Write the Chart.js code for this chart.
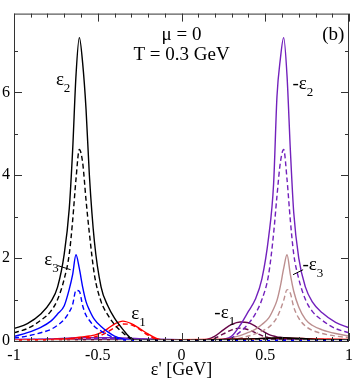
<!DOCTYPE html>
<html>
<head>
<meta charset="utf-8">
<script src="https://cdn.jsdelivr.net/npm/chart.js@4"></script>
<style>
  html, body { margin: 0; padding: 0; background: #fff; }
  #wrap { width: 358px; height: 379px; }
</style>
</head>
<body>
<div id="wrap"><canvas id="myChart" width="358" height="379"></canvas></div>
<script>
// energy grids (GeV): dense around the left peaks / the right peaks
var xLeft = [-1, -0.92, -0.84, -0.78, -0.74, -0.7, -0.67, -0.65, -0.63, -0.61, -0.59, -0.57, -0.55, -0.52, -0.48, -0.44, -0.4, -0.35, -0.3, -0.25, -0.2, -0.15, -0.1, 0, 0.2, 0.4, 0.6, 0.8, 1];
var xRight = [-1, -0.8, -0.6, -0.4, -0.2, 0, 0.1, 0.15, 0.2, 0.25, 0.3, 0.35, 0.4, 0.44, 0.48, 0.52, 0.55, 0.57, 0.59, 0.61, 0.63, 0.65, 0.67, 0.7, 0.74, 0.78, 0.84, 0.92, 1];
var xBase = [-1, 1];

// left peaks (on xLeft)
var eps2Solid = [0.30, 0.42, 0.65, 0.95, 1.3, 2.1, 3.2, 4.6, 6.4, 7.32, 6.7, 5.6, 4.0, 2.4, 1.3, 0.85, 0.55, 0.28, 0.06, 0.02, 0.02, 0.02, 0.02, 0.02, 0.03, 0.05, 0.08, 0.04, 0.03];
var eps2Dash = [0.2, 0.3, 0.5, 0.72, 1.0, 1.5, 2.1, 2.9, 3.9, 4.62, 4.3, 3.4, 2.6, 1.6, 0.95, 0.63, 0.4, 0.2, 0.05, 0.02, 0.02, 0.02, 0.02, 0.02, 0.02, 0.03, 0.05, 0.03, 0.02];
var eps3Solid = [0.11, 0.2, 0.33, 0.48, 0.65, 0.85, 1.25, 1.6, 2.08, 1.75, 1.3, 0.95, 0.75, 0.52, 0.35, 0.22, 0.12, 0.05, 0.02, 0.01, 0.01, 0.01, 0.01, 0.01, 0.01, 0.01, 0.02, 0.01, 0.01];
var eps3Dash = [0.07, 0.12, 0.2, 0.28, 0.38, 0.52, 0.7, 0.88, 1.22, 1.2, 0.85, 0.62, 0.5, 0.35, 0.24, 0.15, 0.08, 0.03, 0.01, 0.01, 0.01, 0.01, 0.01, 0.01, 0.01, 0.01, 0.01, 0.01, 0.01];
var eps1Solid = [0.02, 0.03, 0.03, 0.04, 0.05, 0.05, 0.06, 0.07, 0.08, 0.09, 0.1, 0.11, 0.12, 0.14, 0.2, 0.3, 0.41, 0.48, 0.42, 0.3, 0.17, 0.06, 0.02, 0.03, 0.04, 0.05, 0.07, 0.05, 0.04];
var eps1Dash = [0.02, 0.02, 0.03, 0.03, 0.04, 0.04, 0.05, 0.05, 0.06, 0.07, 0.07, 0.08, 0.08, 0.1, 0.14, 0.22, 0.32, 0.41, 0.39, 0.28, 0.14, 0.04, 0.01, 0.02, 0.03, 0.04, 0.05, 0.04, 0.03];

// right peaks (on xRight)
var negEps2Solid = [0.04, 0.05, 0.08, 0.08, 0.05, 0.03, 0.02, 0.02, 0.02, 0.04, 0.12, 0.38, 0.72, 1.0, 1.5, 2.5, 3.8, 5.9, 6.8, 7.32, 6.4, 4.6, 3.1, 2.0, 1.3, 0.95, 0.68, 0.45, 0.32];
var negEps2Dash = [0.03, 0.04, 0.06, 0.06, 0.04, 0.02, 0.02, 0.02, 0.02, 0.03, 0.08, 0.22, 0.42, 0.65, 1.0, 1.6, 2.6, 3.5, 4.3, 4.62, 3.9, 2.9, 2.1, 1.5, 1.0, 0.72, 0.5, 0.3, 0.2];
var negEps3Solid = [0.01, 0.01, 0.01, 0.01, 0.01, 0.01, 0.01, 0.01, 0.02, 0.04, 0.08, 0.13, 0.21, 0.28, 0.4, 0.55, 0.78, 0.98, 1.32, 1.75, 2.08, 1.6, 1.2, 0.82, 0.52, 0.38, 0.27, 0.18, 0.12];
var negEps3Dash = [0.01, 0.01, 0.01, 0.01, 0.01, 0.01, 0.01, 0.01, 0.01, 0.02, 0.04, 0.07, 0.12, 0.17, 0.24, 0.33, 0.45, 0.57, 0.75, 0.98, 1.24, 1.15, 0.82, 0.55, 0.36, 0.26, 0.18, 0.12, 0.08];
var negEps1Solid = [0.02, 0.02, 0.03, 0.03, 0.02, 0.02, 0.02, 0.04, 0.12, 0.27, 0.4, 0.46, 0.44, 0.36, 0.25, 0.16, 0.12, 0.1, 0.09, 0.08, 0.07, 0.06, 0.05, 0.04, 0.03, 0.03, 0.02, 0.02, 0.02];
var negEps1Dash = [0.02, 0.02, 0.02, 0.02, 0.02, 0.02, 0.02, 0.02, 0.07, 0.17, 0.27, 0.31, 0.27, 0.2, 0.13, 0.08, 0.06, 0.05, 0.05, 0.04, 0.04, 0.03, 0.03, 0.03, 0.02, 0.02, 0.02, 0.02, 0.02];
var baseVals = [0.015, 0.015];

var xTicks = [-1, -0.5, 0, 0.5, 1];
var yTicks = [0, 2, 4, 6];

var SERIF = "'Liberation Serif', 'DejaVu Serif', serif";
var BLACK = '#000000', BLUE = '#0000ff', RED = '#ff0000';
var INDIGO = '#7221bc', BROWN = '#bc8f8f', MAROON = '#670748';

function series(xs, ys, color, dashed, order) {
    return {
        data: xs.map(function (x, i) { return { x: x, y: ys[i] }; }),
        borderColor: color,
        borderWidth: 1.4,
        borderDash: dashed ? [5, 3] : [],
        pointRadius: 0,
        cubicInterpolationMode: 'monotone',
        fill: false,
        order: order
    };
}

// labels placed in data units: [main, sub, x, y]
var curveLabels = [
    ['\u03b5', '2', -0.75, 6.17],
    ['-\u03b5', '2', 0.662, 6.08],
    ['\u03b5', '3', -0.82, 1.83],
    ['-\u03b5', '3', 0.722, 1.71],
    ['\u03b5', '1', -0.3, 0.53],
    ['-\u03b5', '1', 0.196, 0.55]
];
var leaders = [
    [-0.739, 1.82, -0.662, 1.72],
    [0.666, 1.60, 0.726, 1.72]
];

var framePlugin = {
    id: 'frame',
    afterDatasetsDraw: function (chart) {
        var c = chart.ctx, a = chart.chartArea;
        var xs = chart.scales.x, ys = chart.scales.y;
        c.save();
        c.strokeStyle = '#333';
        c.lineWidth = 1;
        c.strokeRect(a.left + 0.5, a.top + 0.5, a.right - a.left - 1, a.bottom - a.top);
        // inward ticks, major 0.5 / minor 0.1 on x; major 2 / minor 1 on y
        c.beginPath();
        for (var k = -10; k <= 10; k++) {
            var v = k / 10;
            var px = Math.round(xs.getPixelForValue(v)) + 0.5;
            var len = (k % 5 === 0) ? 8 : 4;
            c.moveTo(px, a.bottom); c.lineTo(px, a.bottom - len);
            c.moveTo(px, a.top); c.lineTo(px, a.top + len);
        }
        for (var j = 1; j <= 7; j++) {
            var py = Math.round(ys.getPixelForValue(j)) + 0.5;
            var l2 = (j % 2 === 0) ? 8 : 4;
            c.moveTo(a.left, py); c.lineTo(a.left + l2, py);
            c.moveTo(a.right, py); c.lineTo(a.right - l2, py);
        }
        c.stroke();

        // leader lines
        c.strokeStyle = '#000';
        c.beginPath();
        leaders.forEach(function (L) {
            c.moveTo(xs.getPixelForValue(L[0]), ys.getPixelForValue(L[1]));
            c.lineTo(xs.getPixelForValue(L[2]), ys.getPixelForValue(L[3]));
        });
        c.stroke();

        c.fillStyle = '#000';
        c.textBaseline = 'alphabetic';
        curveLabels.forEach(function (t) {
            var px = xs.getPixelForValue(t[2]), py = ys.getPixelForValue(t[3]);
            c.font = '19px ' + SERIF;
            c.textAlign = 'left';
            c.fillText(t[0], px, py);
            var w = c.measureText(t[0]).width;
            c.font = '13px ' + SERIF;
            c.fillText(t[1], px + w, py + 7);
        });

        c.font = '19px ' + SERIF;
        c.textAlign = 'center';
        c.fillText('\u03bc = 0', xs.getPixelForValue(0), ys.getPixelForValue(7.26));
        c.fillText('T = 0.3 GeV', xs.getPixelForValue(0), ys.getPixelForValue(6.79));
        c.textAlign = 'left';
        c.fillText('(b)', xs.getPixelForValue(0.84), ys.getPixelForValue(7.26));
        c.restore();
    }
};

var ctx = document.getElementById('myChart').getContext('2d');
var chart = new Chart(ctx, {
    type: 'line',
    data: {
        datasets: [
            series(xBase, baseVals, '#dddddd', true, 0),
            series(xLeft, eps2Solid, BLACK, false, 1),
            series(xLeft, eps2Dash, BLACK, true, 2),
            series(xLeft, eps3Solid, BLUE, false, 3),
            series(xLeft, eps3Dash, BLUE, true, 4),
            series(xLeft, eps1Solid, RED, false, 5),
            series(xLeft, eps1Dash, RED, true, 6),
            series(xRight, negEps2Solid, INDIGO, false, 7),
            series(xRight, negEps2Dash, INDIGO, true, 8),
            series(xRight, negEps3Solid, BROWN, false, 9),
            series(xRight, negEps3Dash, BROWN, true, 10),
            series(xRight, negEps1Solid, MAROON, false, 11),
            series(xRight, negEps1Dash, MAROON, true, 12)
        ]
    },
    options: {
        responsive: false,
        animation: false,
        layout: { padding: { left: 0, right: 5, top: 2, bottom: 0 } },
        plugins: { legend: { display: false }, tooltip: { enabled: false } },
        scales: {
            x: {
                type: 'linear',
                min: -1,
                max: 1,
                grid: { display: false, drawTicks: false },
                border: { display: false },
                afterBuildTicks: function (s) { s.ticks = xTicks.map(function (v) { return { value: v }; }); },
                afterFit: function (s) { s.height = 38; },
                ticks: {
                    color: '#000', padding: 5, maxRotation: 0, autoSkip: false,
                    font: { family: SERIF, size: 16 },
                    callback: function (v) { return String(v); }
                },
                title: { display: true, text: "\u03b5' [GeV]", color: '#000', padding: { top: 0, bottom: 0 }, font: { family: SERIF, size: 18, lineHeight: 1.0 } }
            },
            y: {
                min: 0,
                max: 7.9,
                grid: { display: false, drawTicks: false },
                border: { display: false },
                afterBuildTicks: function (s) { s.ticks = yTicks.map(function (v) { return { value: v }; }); },
                afterFit: function (s) { s.width = 14; },
                ticks: {
                    color: '#000', padding: 4,
                    font: { family: SERIF, size: 16 },
                    callback: function (v) { return String(v); }
                }
            }
        }
    },
    plugins: [framePlugin]
});
</script>
</body>
</html>
